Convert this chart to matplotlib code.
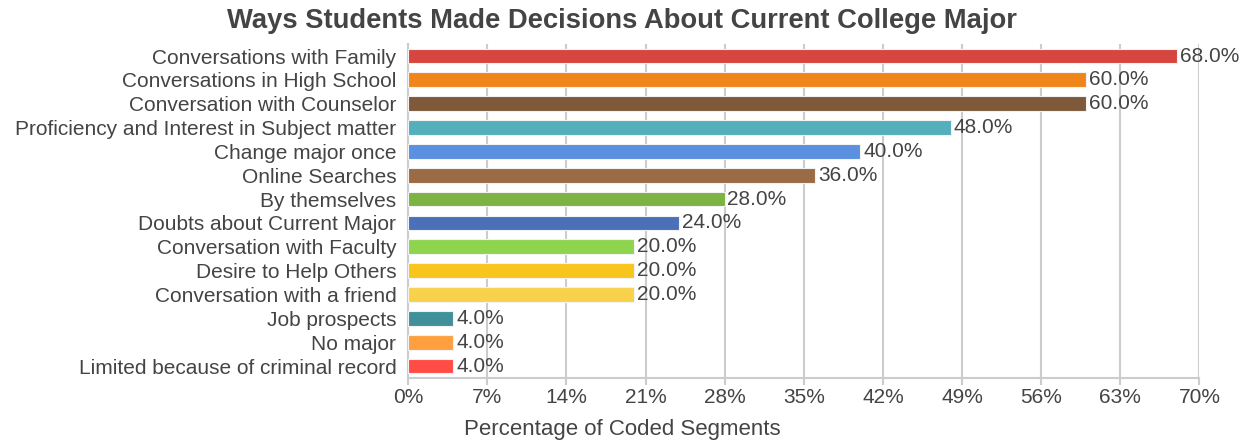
import numpy as np
import matplotlib.pyplot as plt

categories = [
    "Conversations with Family",
    "Conversations in High School",
    "Conversation with Counselor",
    "Proficiency and Interest in Subject matter",
    "Change major once",
    "Online Searches",
    "By themselves",
    "Doubts about Current Major",
    "Conversation with Faculty",
    "Desire to Help Others",
    "Conversation with a friend",
    "Job prospects",
    "No major",
    "Limited because of criminal record",
]
values = [68.0, 60.0, 60.0, 48.0, 40.0, 36.0, 28.0, 24.0, 20.0, 20.0, 20.0, 4.0, 4.0, 4.0]
colors = ['#d64540', '#f0861a', '#7f5a3a', '#54afbd', '#5b8fe0', '#9a6b45', '#7cb342',
          '#4a70b8', '#8fd44f', '#f8c51c', '#f9d24c', '#40909a', '#ffa040', '#ff4d45']
xticks = [0, 7, 14, 21, 28, 35, 42, 49, 56, 63, 70]

plt.rcParams['font.family'] = ['Liberation Sans', 'DejaVu Sans']
text_color = '#444444'
grid_color = '#cccccc'
fs = 15

fig = plt.figure(figsize=(12.52, 4.41), dpi=100)
ax = fig.add_axes([0.326, 0.143, 0.632, 0.757])

y = np.arange(len(categories))
ax.barh(y, values, height=0.62, color=colors, edgecolor='#f2f2f2', linewidth=0.8, zorder=3)

for yi, v in zip(y, values):
    ax.annotate(f"{v:.1f}%", (v, yi), xytext=(2, 0), textcoords='offset points',
                va='center', ha='left', fontsize=fs, color=text_color, zorder=4)

ax.set_xlim(0, 70)
ax.set_ylim(len(categories) - 0.5, -0.5)
ax.set_yticks(y)
ax.set_yticklabels(categories, fontsize=fs, color=text_color)
ax.set_xticks(xticks)
ax.set_xticklabels([f"{t}%" for t in xticks], fontsize=fs, color=text_color)
ax.tick_params(axis='y', length=0, pad=8.5)
ax.tick_params(axis='x', length=5, color=grid_color, width=1.5, pad=2)

ax.grid(axis='x', color=grid_color, linewidth=1.5, zorder=0)
for side in ['top', 'right']:
    ax.spines[side].set_visible(False)
ax.spines['left'].set_color(grid_color)
ax.spines['left'].set_linewidth(1.5)
ax.spines['bottom'].set_color(grid_color)
ax.spines['bottom'].set_linewidth(1.5)

fig.text(0.497, 0.952, "Ways Students Made Decisions About Current College Major",
         ha='center', va='center', fontsize=19.7, fontweight='bold', color=text_color)
fig.text(0.497, 0.027, "Percentage of Coded Segments", ha='center', va='center',
         fontsize=16, color=text_color)

fig.savefig('out.png', dpi=100, facecolor='white')
